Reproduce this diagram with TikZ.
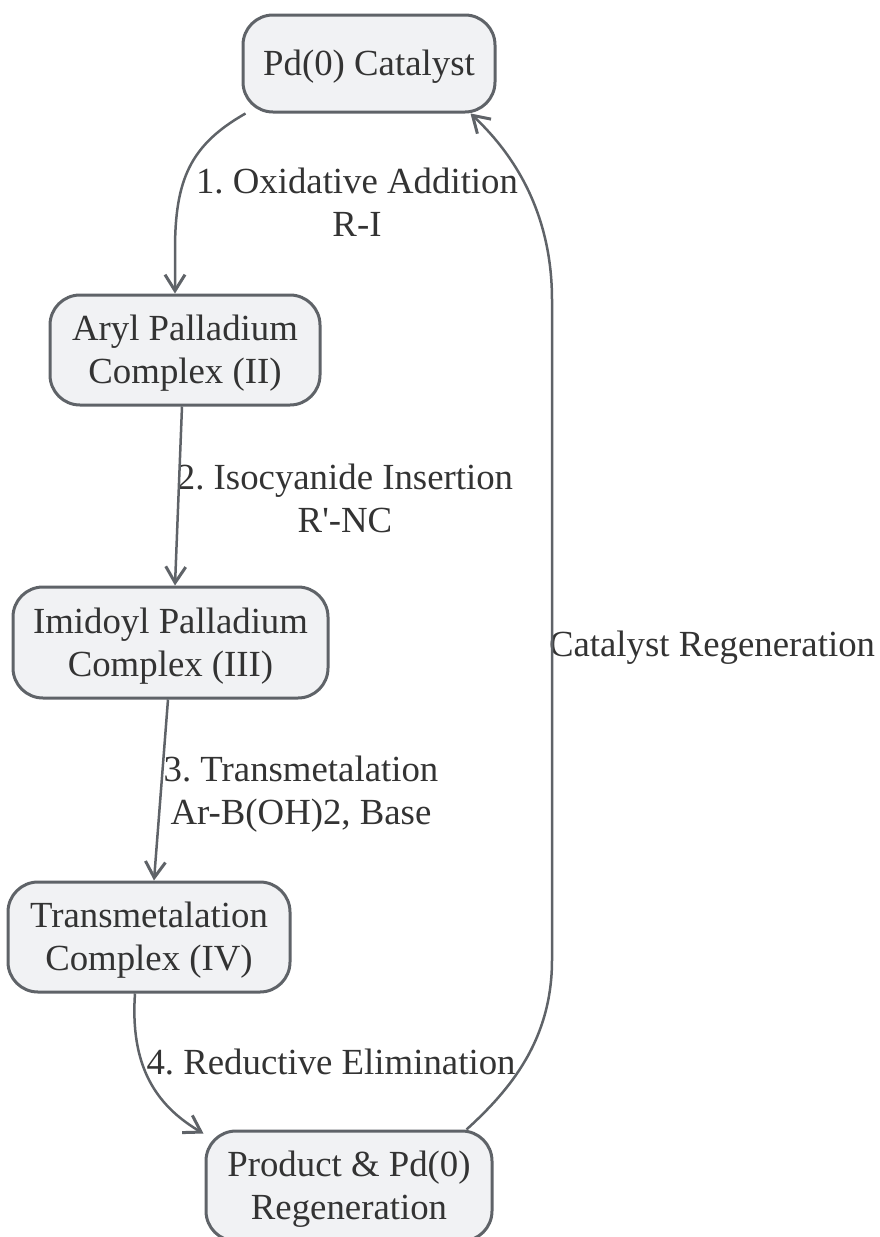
\documentclass[tikz,border=0pt]{standalone}
\usepackage{fontspec}
\setmainfont{Liberation Serif}[Ligatures=TeXOff]
\usetikzlibrary{arrows.meta,calc}
\definecolor{edgec}{RGB}{95,99,104}
\definecolor{nodefill}{RGB}{241,242,244}
\definecolor{txt}{RGB}{51,51,51}
\newcommand\topstrut{\rule{0pt}{0.89em}}
\newcommand\botstrut{\rule[-0.22em]{0pt}{0.22em}}
\frenchspacing
\begin{document}
\begin{tikzpicture}[x=1pt,y=-1pt,
  box/.style={draw=edgec, line width=3pt, fill=nodefill, rounded corners=30pt,
    align=center, text=txt, font=\fontsize{36.8pt}{43pt}\selectfont, inner sep=0pt},
  lab/.style={align=center, text=txt, font=\fontsize{36.8pt}{43pt}\selectfont, inner sep=0pt},
  flow/.style={draw=edgec, line width=2.5pt, -{Straight Barb[length=16pt,width=20pt,line width=3pt]}}]
\useasboundingbox (0,0) rectangle (879,1237);
\node[box, minimum width=252pt, minimum height=97pt] (pd) at (369,63.5) {\topstrut Pd(0) Catalyst\botstrut};
\node[box, minimum width=270pt, minimum height=110pt] (aryl) at (185,350) {\topstrut Aryl Palladium\\Complex (II)\botstrut};
\node[box, minimum width=315pt, minimum height=111pt] (imid) at (170.5,642.5) {\topstrut Imidoyl Palladium\\Complex (III)\botstrut};
\node[box, minimum width=282pt, minimum height=110pt] (trans) at (149,937) {\topstrut Transmetalation\\Complex (IV)\botstrut};
\node[box, minimum width=286pt, minimum height=110pt] (prod) at (349,1186) {\topstrut Product \& Pd(0)\\Regeneration\botstrut};

\node[lab] (l1) at (357,203) {\topstrut 1. Oxidative Addition\\R-I\botstrut};
\node[lab] (l2) at (345,498.6) {\topstrut 2. Isocyanide Insertion\\R'-NC\botstrut};
\node[lab] (l3) at (301,791) {\topstrut 3. Transmetalation\\Ar-B(OH)2, Base\botstrut};
\node[lab] (l4) at (331,1062.6) {\topstrut 4. Reductive Elimination\botstrut};
\node[lab] (l5) at (712,644.6) {\topstrut Catalyst Regeneration\botstrut};

\draw[flow] ([xshift=4pt]pd.south west) .. controls (190,145) and (175,180) .. (175,250) -- ([xshift=-10pt]aryl.north);
\draw[flow] ([xshift=-3pt]aryl.south) -- ([xshift=4.5pt]imid.north);
\draw[flow] ([xshift=-2.5pt]imid.south) -- ([xshift=5pt]trans.north);
\draw[flow] ([xshift=-14pt]trans.south) .. controls (130,1065) and (155,1105) .. ([xshift=-1pt,yshift=-4pt]prod.north west);
\draw[flow] ([xshift=-27pt]prod.north east) .. controls (510,1090) and (552,1040) .. (552,960) -- (552,300) .. controls (552,220) and (520,160) .. ([xshift=-26pt]pd.south east);
\end{tikzpicture}
\end{document}
